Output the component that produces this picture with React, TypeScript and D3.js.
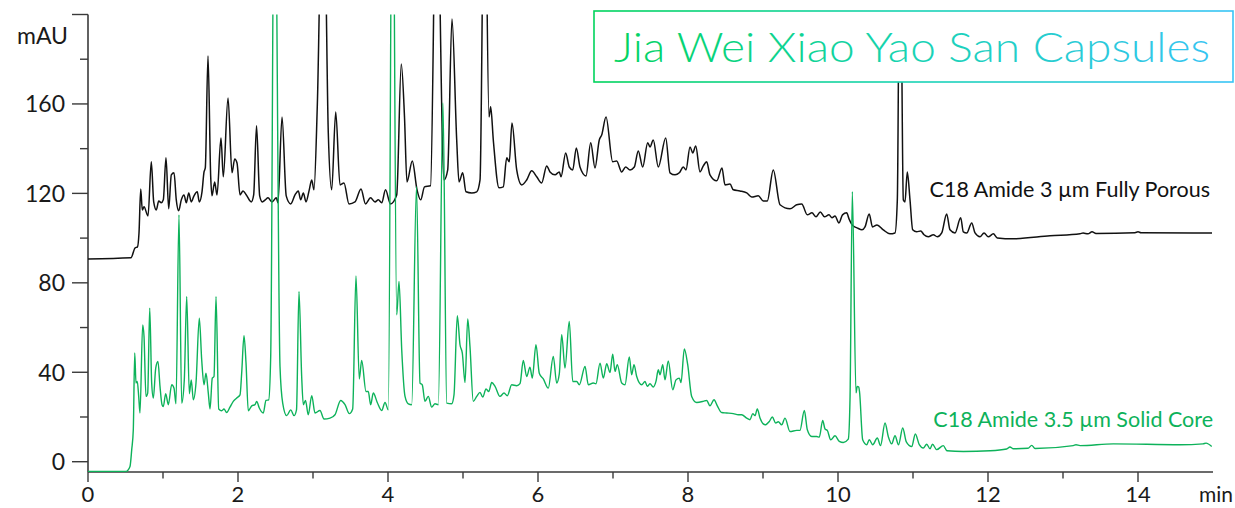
import React from 'react';
import * as d3 from 'd3';

// Chromatogram traces: [retention time (min), absorbance (mAU)]
const porousTrace: [number, number][] = [
  [0, 90.7], [0.573, 91.2], [0.627, 95.6], [0.66, 96.1], [0.68, 102.3], [0.703, 122.0], [0.724, 112.6], [0.747, 114.0], [0.8, 109.9], [0.844, 134.1],
  [0.876, 116.2], [0.911, 112.6], [0.943, 116.6], [0.977, 115.8], [1.004, 117.1], [1.04, 135.9], [1.076, 113.1], [1.111, 128.3], [1.147, 129.2], [1.177, 117.1],
  [1.209, 112.2], [1.244, 117.1], [1.28, 119.3], [1.311, 115.8], [1.343, 120.2], [1.377, 116.2], [1.413, 118.9], [1.457, 120.7], [1.484, 116.2], [1.52, 120.7],
  [1.547, 129.6], [1.564, 131.4], [1.6, 181.5], [1.636, 127.4], [1.653, 118.9], [1.689, 125.1], [1.72, 119.3], [1.773, 144.8], [1.804, 127.4], [1.867, 162.7],
  [1.92, 129.2], [1.956, 135.4], [1.987, 133.6], [2.027, 119.3], [2.067, 121.1], [2.111, 119.3], [2.177, 116.2], [2.209, 119.3], [2.247, 150.2], [2.289, 118.9],
  [2.324, 116.2], [2.364, 117.1], [2.4, 118.0], [2.453, 116.2], [2.511, 118.0], [2.533, 115.8], [2.587, 154.2], [2.643, 118.9], [2.703, 115.3], [2.76, 119.3],
  [2.804, 121.1], [2.836, 117.1], [2.871, 120.2], [2.907, 116.2], [2.947, 121.1], [2.983, 126.0], [3.013, 121.6], [3.057, 158.7], [3.137, 280], [3.204, 147.0],
  [3.249, 121.6], [3.303, 156.4], [3.36, 123.8], [3.413, 124.7], [3.48, 115.3], [3.56, 116.2], [3.64, 122.0], [3.7, 115.3], [3.767, 118.0], [3.827, 116.2],
  [3.871, 117.1], [3.916, 115.8], [3.967, 121.6], [4.033, 115.3], [4.116, 119.3], [4.177, 177.9], [4.22, 154.2], [4.253, 125.1], [4.324, 134.5], [4.387, 121.6],
  [4.436, 117.1], [4.487, 122.9], [4.567, 123.4], [4.647, 270], [4.747, 126.0], [4.796, 130.5], [4.853, 198], [4.916, 143.9], [4.947, 125.1], [4.996, 129.2],
  [5.04, 120.7], [5.116, 120.2], [5.183, 120.7], [5.227, 126.0], [5.287, 280], [5.347, 154.2], [5.369, 158.7], [5.404, 143.9], [5.48, 122.5], [5.537, 122.9],
  [5.583, 135.9], [5.617, 134.1], [5.653, 151.5], [5.716, 130.5], [5.783, 123.8], [5.849, 126.0], [5.916, 130.1], [5.983, 127.4], [6.049, 124.7], [6.116, 132.3],
  [6.16, 129.6], [6.227, 128.3], [6.284, 129.6], [6.307, 127.4], [6.369, 138.1], [6.417, 131.8], [6.463, 130.5], [6.511, 140.3], [6.56, 131.8], [6.64, 127.8],
  [6.703, 142.6], [6.76, 131.4], [6.817, 143.9], [6.849, 146.1], [6.907, 154.2], [6.996, 134.1], [7.049, 134.5], [7.116, 129.6], [7.169, 131.8], [7.227, 130.5],
  [7.284, 131.8], [7.337, 139.0], [7.396, 131.8], [7.463, 142.6], [7.493, 140.8], [7.537, 143.9], [7.604, 131.8], [7.703, 144.8], [7.76, 129.2], [7.827, 128.3],
  [7.884, 129.2], [7.937, 131.8], [7.973, 130.5], [8.027, 140.8], [8.063, 138.1], [8.103, 141.2], [8.16, 129.6], [8.204, 132.3], [8.249, 134.1], [8.293, 128.3],
  [8.383, 125.6], [8.453, 131.4], [8.493, 123.8], [8.56, 124.2], [8.604, 121.6], [8.693, 121.1], [8.783, 120.2], [8.849, 118.4], [8.937, 118.9], [9.004, 116.6],
  [9.057, 116.6], [9.137, 130.5], [9.227, 114.9], [9.36, 113.1], [9.449, 114.9], [9.516, 115.3], [9.591, 110.4], [9.653, 111.3], [9.707, 109.5], [9.764, 111.7],
  [9.82, 109.5], [9.88, 110.4], [9.92, 109.1], [9.96, 109.9], [10.013, 106.8], [10.06, 110.4], [10.116, 111.3], [10.147, 108.6], [10.2, 105.5], [10.253, 104.6],
  [10.32, 103.7], [10.36, 105.0], [10.416, 110.8], [10.46, 105.0], [10.52, 105.9], [10.604, 103.7], [10.693, 101.9], [10.76, 102.3], [10.791, 117.1], [10.827, 260],
  [10.871, 117.1], [10.893, 116.2], [10.924, 129.6], [10.96, 117.1], [10.996, 103.7], [11.049, 102.8], [11.103, 103.2], [11.147, 101.5], [11.204, 100.6], [11.271, 101.5],
  [11.324, 100.6], [11.383, 102.3], [11.449, 110.8], [11.493, 103.7], [11.56, 102.3], [11.636, 109.1], [11.671, 102.8], [11.716, 102.3], [11.783, 106.8], [11.827, 102.3],
  [11.893, 100.6], [11.947, 102.3], [12.004, 100.6], [12.071, 101.9], [12.124, 100.1], [12.333, 99.7], [12.827, 101.0], [13.227, 101.9], [13.267, 102.3], [13.333, 101.9],
  [13.387, 102.8], [13.44, 102.1], [13.96, 102.4], [14.0, 102.8], [14.04, 102.4], [14.987, 102.3],
];

const solidTrace: [number, number][] = [
  [0, -4.3], [0.507, -4.3], [0.56, -2.1], [0.583, 5.4], [0.604, 14.3], [0.623, 48.6], [0.64, 35.2], [0.657, 35.9], [0.676, 29.2], [0.693, 21.8],
  [0.729, 61.2], [0.747, 56.0], [0.773, 29.2], [0.796, 30.7], [0.823, 68.7], [0.849, 35.2], [0.871, 28.5], [0.903, 41.9], [0.933, 44.8], [0.96, 33.7],
  [0.987, 25.5], [1.004, 24.7], [1.036, 30.4], [1.071, 25.5], [1.116, 34.4], [1.147, 32.9], [1.173, 25.9], [1.213, 110.4], [1.249, 26.2], [1.284, 36.6],
  [1.316, 73.9], [1.351, 30.4], [1.377, 36.6], [1.404, 27.7], [1.44, 35.2], [1.484, 64.2], [1.516, 45.6], [1.547, 34.4], [1.573, 39.6], [1.604, 30.7],
  [1.627, 23.6], [1.657, 37.4], [1.68, 38.1], [1.707, 73.9], [1.743, 23.6], [1.783, 22.8], [1.813, 23.6], [1.849, 22.0], [1.893, 24.4], [1.937, 27.0],
  [1.983, 28.5], [2.027, 29.9], [2.049, 39.6], [2.08, 56.3], [2.107, 44.1], [2.137, 22.8], [2.183, 25.0], [2.227, 25.5], [2.249, 27.0], [2.284, 24.0],
  [2.337, 21.8], [2.373, 27.4], [2.409, 27.7], [2.436, 47.1], [2.487, 290], [2.56, 42.6], [2.596, 26.2], [2.649, 20.6], [2.703, 23.2], [2.747, 20.6],
  [2.78, 23.2], [2.813, 76.1], [2.849, 38.1], [2.871, 25.5], [2.9, 27.4], [2.937, 21.0], [2.983, 29.5], [3.027, 21.8], [3.093, 22.9], [3.147, 19.1],
  [3.227, 19.5], [3.293, 21.0], [3.369, 27.4], [3.427, 25.5], [3.484, 21.5], [3.529, 23.6], [3.573, 83.1], [3.617, 37.0], [3.649, 45.3], [3.707, 31.4],
  [3.737, 31.4], [3.769, 25.5], [3.804, 30.7], [3.857, 26.5], [3.916, 22.9], [3.96, 26.5], [4.004, 23.2], [4.06, 300], [4.116, 65.7], [4.147, 80.6],
  [4.183, 50.1], [4.227, 29.2], [4.271, 25.9], [4.316, 25.5], [4.38, 123], [4.427, 35.2], [4.457, 34.4], [4.493, 27.0], [4.537, 29.2], [4.583, 24.4],
  [4.627, 25.9], [4.671, 25.5], [4.733, 160.4], [4.783, 26.2], [4.849, 25.9], [4.88, 29.9], [4.924, 65.3], [4.96, 52.3], [4.991, 48.6], [5.027, 35.4],
  [5.063, 63.8], [5.093, 51.5], [5.137, 27.0], [5.183, 29.2], [5.227, 31.0], [5.263, 28.9], [5.307, 32.5], [5.343, 31.4], [5.383, 35.4], [5.427, 33.7],
  [5.493, 29.2], [5.547, 30.7], [5.591, 29.5], [5.649, 34.4], [5.716, 34.0], [5.76, 34.9], [5.804, 45.3], [5.849, 38.1], [5.893, 42.3], [5.924, 37.4],
  [5.973, 52.3], [6.017, 39.6], [6.071, 37.0], [6.137, 32.9], [6.204, 47.1], [6.249, 35.2], [6.284, 39.3], [6.316, 56.8], [6.36, 41.9], [6.417, 62.7],
  [6.463, 35.9], [6.516, 35.9], [6.551, 34.4], [6.627, 42.6], [6.671, 34.4], [6.737, 35.2], [6.773, 34.9], [6.827, 44.1], [6.871, 37.4], [6.916, 43.8],
  [6.96, 39.9], [6.996, 48.1], [7.027, 40.4], [7.057, 43.4], [7.116, 35.2], [7.16, 34.4], [7.217, 46.8], [7.249, 38.9], [7.28, 43.4], [7.316, 38.1],
  [7.383, 34.4], [7.427, 35.9], [7.457, 33.7], [7.493, 34.9], [7.537, 33.4], [7.573, 35.9], [7.604, 41.1], [7.627, 38.9], [7.663, 43.4], [7.693, 36.6],
  [7.737, 45.1], [7.796, 32.2], [7.84, 36.6], [7.884, 37.4], [7.907, 35.4], [7.951, 50.4], [7.996, 43.4], [8.049, 29.2], [8.116, 26.5], [8.204, 27.0],
  [8.249, 27.4], [8.293, 25.0], [8.347, 27.7], [8.391, 25.0], [8.449, 22.0], [8.516, 21.8], [8.604, 21.5], [8.671, 21.0], [8.716, 21.0], [8.783, 19.5],
  [8.827, 18.8], [8.863, 21.5], [8.893, 20.6], [8.924, 23.6], [8.96, 19.5], [9.027, 16.5], [9.084, 18.0], [9.124, 20.0], [9.169, 17.3], [9.204, 17.9],
  [9.249, 16.5], [9.293, 19.5], [9.36, 13.5], [9.449, 14.0], [9.493, 14.0], [9.551, 22.9], [9.591, 14.3], [9.649, 11.3], [9.716, 11.3], [9.751, 11.0],
  [9.796, 18.5], [9.827, 14.6], [9.857, 14.0], [9.903, 9.8], [9.96, 11.6], [10.017, 9.1], [10.071, 8.6], [10.137, 10.1], [10.16, 27.7], [10.191, 120.8],
  [10.24, 30.8], [10.257, 33.7], [10.276, 33.4], [10.287, 31.3], [10.329, 9.8], [10.383, 7.6], [10.417, 9.8], [10.463, 7.6], [10.524, 10.6], [10.567, 7.2],
  [10.627, 17.3], [10.671, 11.2], [10.716, 8.0], [10.76, 11.6], [10.807, 7.6], [10.863, 15.1], [10.911, 8.9], [10.983, 6.8], [11.031, 12.4], [11.084, 7.6],
  [11.137, 6.1], [11.183, 7.8], [11.227, 5.8], [11.26, 7.8], [11.316, 5.4], [11.404, 7.2], [11.453, 4.9], [11.671, 4.6], [12.027, 4.9], [12.249, 5.7],
  [12.293, 6.6], [12.333, 5.8], [12.533, 6.0], [12.583, 7.3], [12.627, 5.9], [13.137, 7.2], [13.173, 7.6], [13.227, 7.2], [13.671, 8.0], [14.56, 7.6],
  [14.867, 8.0], [14.907, 8.3], [14.983, 6.8],
];

const yMajorTicks = [0, 40, 80, 120, 160, 200];
const yLabelTicks = [0, 40, 80, 120, 160];
const yMinorTicks = [20, 60, 100, 140, 180];
const xMajorTicks = [0, 2, 4, 6, 8, 10, 12, 14];
const xMinorTicks = [1, 3, 5, 7, 9, 11, 13];
const titleText = 'Jia Wei Xiao Yao San Capsules';
const porousLabel = 'C18 Amide 3 µm Fully Porous';
const solidLabel = 'C18 Amide 3.5 µm Solid Core';
const yUnit = 'mAU';
const xUnit = 'min';

const FONT = 'Lato, "Open Sans", sans-serif';
const AXIS = '#3a3a3a';
const GREEN = '#0db25a';

export default function App() {
  const W = 1235;
  const H = 508;
  const left = 88, right = 1213, top = 14.5, bottom = 472;
  const x = d3.scaleLinear().domain([0, 15]).range([left, right]);
  const y = d3.scaleLinear().domain([-4.6, 200]).range([bottom, top]);
  const line = d3
    .line<[number, number]>()
    .x((d) => x(d[0]))
    .y((d) => y(d[1]))
    .curve(d3.curveMonotoneX);

  return (
    <svg
      width={W}
      height={H}
      viewBox={`0 0 ${W} ${H}`}
      style={{ position: 'absolute', left: 0, top: 0, background: '#fff' }}
      fontFamily={FONT}
    >
      <defs>
        <clipPath id="plotClip">
          <rect x={left} y={top} width={right - left + 2} height={bottom - top} />
        </clipPath>
        <linearGradient id="titleGrad" gradientUnits="userSpaceOnUse" x1={594} y1={0} x2={1233} y2={0}>
          <stop offset="0%" stopColor="#00d35c" />
          <stop offset="50%" stopColor="#18d3b4" />
          <stop offset="100%" stopColor="#38c4f6" />
        </linearGradient>
      </defs>

      {/* axes */}
      <line x1={left} y1={top} x2={left} y2={bottom} stroke={AXIS} strokeWidth={1.6} />
      <line x1={left} y1={bottom} x2={right} y2={bottom} stroke={AXIS} strokeWidth={1.6} />
      {yMajorTicks.map((t) => (
        <line key={'ym' + t} x1={left - 16} x2={left} y1={y(t)} y2={y(t)} stroke={AXIS} strokeWidth={1.4} />
      ))}
      {yMinorTicks.map((t) => (
        <line key={'yn' + t} x1={left - 8} x2={left} y1={y(t)} y2={y(t)} stroke={AXIS} strokeWidth={1.4} />
      ))}
      {yLabelTicks.map((t) => (
        <text key={'yl' + t} x={65} y={y(t) + 8.5} textAnchor="end" fontSize={23} fill="#1a1a1a">
          {t}
        </text>
      ))}
      <text x={68} y={43.5} textAnchor="end" fontSize={23} fill="#1a1a1a">
        {yUnit}
      </text>
      {xMajorTicks.map((t) => (
        <g key={'xm' + t}>
          <line x1={x(t)} x2={x(t)} y1={bottom} y2={bottom + 10} stroke={AXIS} strokeWidth={1.4} />
          <text x={x(t)} y={502} textAnchor="middle" fontSize={22} fill="#1a1a1a">
            {t}
          </text>
        </g>
      ))}
      {xMinorTicks.map((t) => (
        <line key={'xn' + t} x1={x(t)} x2={x(t)} y1={bottom} y2={bottom + 6.5} stroke={AXIS} strokeWidth={1.4} />
      ))}
      <text x={1216} y={502} textAnchor="middle" fontSize={21} fill="#1a1a1a">
        {xUnit}
      </text>

      {/* traces */}
      <g clipPath="url(#plotClip)">
        <path d={line(porousTrace) || ''} fill="none" stroke="#111" strokeWidth={1.5} strokeLinejoin="round" />
        <path d={line(solidTrace) || ''} fill="none" stroke={GREEN} strokeWidth={1.4} strokeLinejoin="round" />
      </g>

      {/* series labels */}
      <text x={1210} y={197} textAnchor="end" fontSize={21.5} fill="#111">
        {porousLabel}
      </text>
      <text x={1213} y={426.5} textAnchor="end" fontSize={21.5} fill={GREEN}>
        {solidLabel}
      </text>

      {/* title box */}
      <rect x={594} y={11} width={639} height={71} fill="#fff" stroke="url(#titleGrad)" strokeWidth={1.6} />
      <text
        x={614}
        y={62}
        fontSize={41}
        fontWeight={300}
        fill="url(#titleGrad)"
        textLength={596}
        lengthAdjust="spacingAndGlyphs"
      >
        {titleText}
      </text>
    </svg>
  );
}
